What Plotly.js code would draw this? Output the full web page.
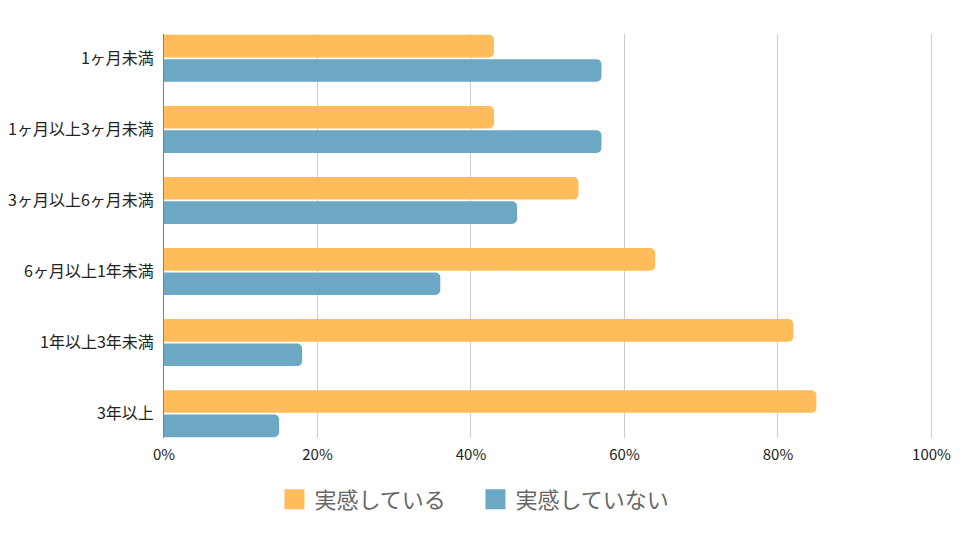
<!DOCTYPE html>
<html>
<head>
<meta charset="utf-8">
<script src="https://cdn.plot.ly/plotly-3.0.1.min.js"></script>
<style>body{margin:0;background:#fff}#chart{width:960px;height:540px}</style>
</head>
<body>
<div id="chart"></div>
<script>
const categories = ["1ヶ月未満", "1ヶ月以上3ヶ月未満", "3ヶ月以上6ヶ月未満", "6ヶ月以上1年未満", "1年以上3年未満", "3年以上"];
const seriesNames = ["実感している", "実感していない"];
const feelYes = [43, 43, 54, 64, 82, 85];
const feelNo = [57, 57, 46, 36, 18, 15];
const colors = ["#FFBC5A", "#6CA7C3"];
const xTickVals = [0, 20, 40, 60, 80, 100];
const xTickText = ["0%", "20%", "40%", "60%", "80%", "100%"];

const font = '"Noto Sans CJK JP", "Noto Sans", sans-serif';

const barTrace = (vals, i) => ({
  type: 'bar', orientation: 'h',
  x: vals, y: categories,
  name: seriesNames[i],
  marker: {color: colors[i], cornerradius: 5},
  showlegend: false,
  hoverinfo: 'x+y'
});
const legendTrace = (i) => ({
  type: 'scatter', mode: 'markers',
  x: [null], y: [null],
  name: seriesNames[i],
  marker: {symbol: 'square', size: 16, color: colors[i], line: {color: colors[i], width: 4}},
  showlegend: true
});

const data = [barTrace(feelYes, 0), barTrace(feelNo, 1), legendTrace(0), legendTrace(1)];

const layout = {
  width: 960, height: 540,
  margin: {l: 164, r: 27, t: 34, b: 102, autoexpand: false},
  paper_bgcolor: '#fff', plot_bgcolor: '#fff',
  font: {family: font, color: '#222', size: 15},
  barmode: 'group',
  bargap: 0.315,
  bargroupgap: 0.07,
  xaxis: {
    range: [0, 100.2], tickvals: xTickVals, ticktext: xTickText,
    showgrid: true, gridcolor: '#cccccc', gridwidth: 1,
    zeroline: false, showline: false,
    ticks: 'outside', ticklen: 3, tickcolor: 'rgba(0,0,0,0)',
    tickfont: {family: font, size: 15, color: '#222'},
    fixedrange: true
  },
  yaxis: {
    type: 'category',
    range: [5.342, -0.342], autorange: false,
    showgrid: false, zeroline: false,
    showline: true, linecolor: '#808080', linewidth: 1,
    ticks: 'outside', ticklen: 6, tickcolor: 'rgba(0,0,0,0)',
    tickfont: {family: font, size: 16, color: '#222'},
    fixedrange: true
  },
  legend: {
    orientation: 'h', x: 0.405, xanchor: 'center', y: -0.1, yanchor: 'top',
    font: {family: font, size: 22, color: '#666'},
    itemwidth: 30, traceorder: 'normal',
    entrywidth: 156, entrywidthmode: 'pixels'
  },
  showlegend: true
};

Plotly.newPlot('chart', data, layout, {displayModeBar: false, staticPlot: true});
</script>
</body>
</html>
